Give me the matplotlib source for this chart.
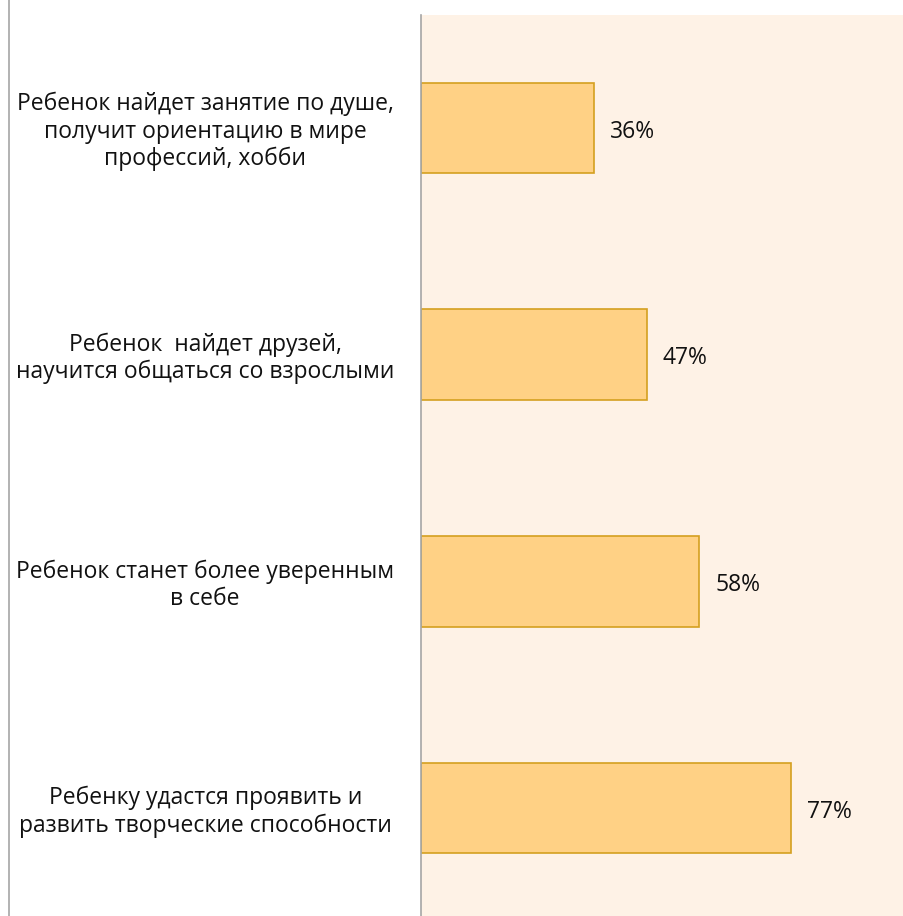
import matplotlib.pyplot as plt
from matplotlib.lines import Line2D
from matplotlib.transforms import blended_transform_factory

BAR_FILL = "#FFD185"
BAR_EDGE = "#D4A020"
PLOT_BG = "#FEF2E6"
AXIS_GRAY = "#A6A6A6"

categories = [
    "Ребенок найдет занятие по душе,\nполучит ориентацию в мире\nпрофессий, хобби",
    "Ребенок  найдет друзей,\nнаучится общаться со взрослыми",
    "Ребенок станет более уверенным\nв себе",
    "Ребенку удастся проявить и\nразвить творческие способности",
]
values = [36, 47, 58, 77]

plt.rcParams["font.family"] = ["Open Sans", "DejaVu Sans"]

fig = plt.figure(figsize=(9.04, 9.16), dpi=100)
fig.patch.set_facecolor("white")
ax = fig.add_axes([0.4657, -0.0058, 0.5343, 0.9898])
ax.set_facecolor(PLOT_BG)

pos = list(range(len(values)))
ax.barh(pos, values, height=0.4, color=BAR_FILL, edgecolor=BAR_EDGE, linewidth=1.2)
ax.set_xlim(0, 100.6)
ax.set_ylim(len(values) - 0.5, -0.5)

# small downward nudge so the text sits like in the original
dy = 0.016

for p, v in zip(pos, values):
    ax.text(v + 3.3, p + dy, f"{v}%", va="center", ha="left", fontsize=16.5, color="#111111")

trans = blended_transform_factory(fig.transFigure, ax.transData)
for p, label in zip(pos, categories):
    ax.text(0.227, p + dy, label, transform=trans, ha="center", va="center",
            fontsize=16.5, color="#111111", linespacing=1.18, clip_on=False)

for side in ["top", "right", "bottom"]:
    ax.spines[side].set_visible(False)
ax.spines["left"].set_color(AXIS_GRAY)
ax.spines["left"].set_linewidth(1.2)
ax.set_xticks([])
ax.set_yticks([])

# thin border at the left edge of the picture
fig.add_artist(Line2D([8.5 / 904, 8.5 / 904], [0, 1], color=AXIS_GRAY, linewidth=1.2))

fig.savefig("out.png", dpi=100, facecolor="white")
